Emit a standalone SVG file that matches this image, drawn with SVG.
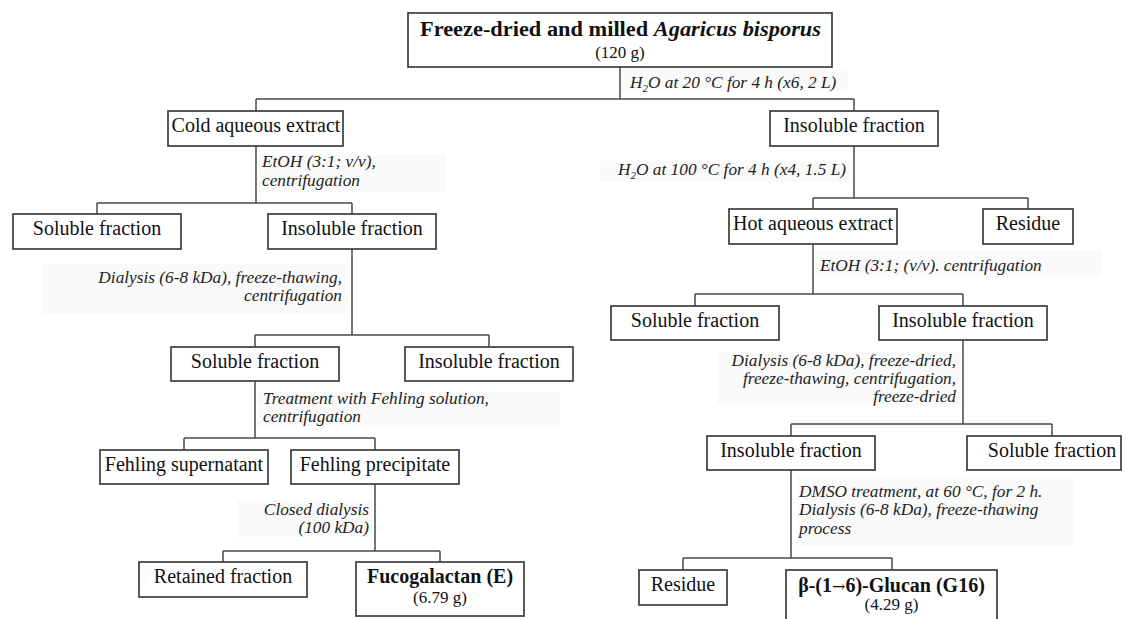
<svg xmlns="http://www.w3.org/2000/svg" width="1126" height="619" viewBox="0 0 1126 619">
  <style>
    .box { fill: #ffffff; stroke: #3c3c3c; stroke-width: 1.7; }
    .lbl { font-family: "Liberation Serif", "Times New Roman", serif; font-size: 20px; fill: #111; text-anchor: middle; }
    .b { font-weight: bold; }
    .sub { font-family: "Liberation Serif", "Times New Roman", serif; font-size: 17px; fill: #111; text-anchor: middle; }
    .note { font-family: "Liberation Serif", "Times New Roman", serif; font-size: 17.3px; font-style: italic; fill: #222; }
    .r { text-anchor: end; }
    .bg { fill: #fafafa; }
    .arrow { font-family: "DejaVu Serif", serif; font-weight: normal; font-size: 16px; }
    #connectors path { fill: none; stroke: #4a4a4a; stroke-width: 1.5; }
  </style>

  <rect width="1126" height="619" fill="#ffffff"/>

  <!-- soft backgrounds behind step notes -->
  <g id="note-backgrounds">
    <rect class="bg" x="621" y="69" width="227" height="23"/>
    <rect class="bg" x="258" y="154" width="188" height="38"/>
    <rect class="bg" x="600" y="161" width="252" height="21"/>
    <rect class="bg" x="815" y="250" width="287" height="27"/>
    <rect class="bg" x="43" y="264" width="303" height="50"/>
    <rect class="bg" x="258" y="392" width="302" height="35"/>
    <rect class="bg" x="237" y="500" width="135" height="37"/>
    <rect class="bg" x="717" y="352" width="244" height="53"/>
    <rect class="bg" x="797" y="476" width="276" height="70"/>
  </g>

  <!-- connectors -->
  <g id="connectors">
    <path d="M620,67 V99 M256,99 H854 M256,99 V111 M854,99 V111"/>
    <!-- cold extract branch -->
    <path d="M256,146 V203 M97,203 H352 M97,203 V214 M352,203 V214"/>
    <path d="M352,249 V335 M255,335 H489 M255,335 V347 M489,335 V347"/>
    <path d="M255,381 V438 M184,438 H375 M184,438 V450 M375,438 V450"/>
    <path d="M375,484 V551 M223,551 H440 M223,551 V562 M440,551 V562"/>
    <!-- insoluble residue branch -->
    <path d="M854,146 V198 M813,198 H1028 M813,198 V209 M1028,198 V209"/>
    <path d="M813,244 V294 M695,294 H963 M695,294 V306 M963,294 V306"/>
    <path d="M963,340 V424 M791,424 H1052 M791,424 V436 M1052,424 V436"/>
    <path d="M791,470 V558 M683,558 H892 M683,558 V570 M892,558 V570"/>
  </g>

  <!-- step notes -->
  <g id="notes">
    <text class="note" x="630" y="88">H<tspan font-size="11" dy="4">2</tspan><tspan dy="-4">O at 20 °C for 4 h (x6, 2 L)</tspan></text>
    <text class="note" x="262" y="167">EtOH (3:1; v/v),</text>
    <text class="note" x="262" y="186">centrifugation</text>
    <text class="note r" x="846" y="175">H<tspan font-size="11" dy="4">2</tspan><tspan dy="-4">O at 100 °C for 4 h (x4, 1.5 L)</tspan></text>
    <text class="note" x="820" y="271">EtOH (3:1; (v/v). centrifugation</text>
    <text class="note r" x="342" y="283">Dialysis (6-8 kDa), freeze-thawing,</text>
    <text class="note r" x="342" y="301">centrifugation</text>
    <text class="note" x="263" y="404">Treatment with Fehling solution,</text>
    <text class="note" x="263" y="422">centrifugation</text>
    <text class="note r" x="369" y="515">Closed dialysis</text>
    <text class="note r" x="369" y="533">(100 kDa)</text>
    <text class="note r" x="956" y="366">Dialysis (6-8 kDa), freeze-dried,</text>
    <text class="note r" x="956" y="384">freeze-thawing, centrifugation,</text>
    <text class="note r" x="956" y="402">freeze-dried</text>
    <text class="note" x="799" y="497">DMSO treatment, at 60 °C, for 2 h.</text>
    <text class="note" x="799" y="515">Dialysis (6-8 kDa), freeze-thawing</text>
    <text class="note" x="799" y="534">process</text>
  </g>

  <!-- nodes -->
  <g id="n-start">
    <rect class="box" x="408" y="13" width="424" height="54"/>
    <text class="lbl b" x="620.5" y="36" font-size="22" textLength="401" lengthAdjust="spacingAndGlyphs">Freeze-dried and milled <tspan font-style="italic">Agaricus bisporus</tspan></text>
    <text class="sub" x="620" y="58" font-size="18">(120 g)</text>
  </g>
  <g id="n-cold-extract">
    <rect class="box" x="168" y="111" width="175" height="35"/>
    <text class="lbl" x="256" y="132">Cold aqueous extract</text>
  </g>
  <g id="n-insoluble-1">
    <rect class="box" x="770" y="111" width="168" height="35"/>
    <text class="lbl" x="854" y="132">Insoluble fraction</text>
  </g>
  <g id="n-soluble-2">
    <rect class="box" x="13" y="214" width="168" height="35"/>
    <text class="lbl" x="97" y="235">Soluble fraction</text>
  </g>
  <g id="n-insoluble-2">
    <rect class="box" x="268" y="214" width="168" height="35"/>
    <text class="lbl" x="352" y="235">Insoluble fraction</text>
  </g>
  <g id="n-soluble-3">
    <rect class="box" x="171" y="347" width="168" height="34"/>
    <text class="lbl" x="255" y="368">Soluble fraction</text>
  </g>
  <g id="n-insoluble-3">
    <rect class="box" x="405" y="347" width="168" height="34"/>
    <text class="lbl" x="489" y="368">Insoluble fraction</text>
  </g>
  <g id="n-fehling-sup">
    <rect class="box" x="100" y="450" width="168" height="34"/>
    <text class="lbl" x="184" y="471">Fehling supernatant</text>
  </g>
  <g id="n-fehling-pre">
    <rect class="box" x="291" y="450" width="168" height="34"/>
    <text class="lbl" x="375" y="471">Fehling precipitate</text>
  </g>
  <g id="n-retained">
    <rect class="box" x="139" y="562" width="168" height="35"/>
    <text class="lbl" x="223" y="583">Retained fraction</text>
  </g>
  <g id="n-fucogalactan">
    <rect class="box" x="356" y="562" width="168" height="54"/>
    <text class="lbl b" x="440" y="583">Fucogalactan (E)</text>
    <text class="sub" x="440" y="603">(6.79 g)</text>
  </g>
  <g id="n-hot-extract">
    <rect class="box" x="729" y="209" width="168" height="35"/>
    <text class="lbl" x="813" y="230">Hot aqueous extract</text>
  </g>
  <g id="n-residue-1">
    <rect class="box" x="983" y="209" width="90" height="35"/>
    <text class="lbl" x="1028" y="230">Residue</text>
  </g>
  <g id="n-soluble-4">
    <rect class="box" x="611" y="306" width="168" height="34"/>
    <text class="lbl" x="695" y="327">Soluble fraction</text>
  </g>
  <g id="n-insoluble-4">
    <rect class="box" x="879" y="306" width="168" height="34"/>
    <text class="lbl" x="963" y="327">Insoluble fraction</text>
  </g>
  <g id="n-insoluble-5">
    <rect class="box" x="707" y="436" width="168" height="34"/>
    <text class="lbl" x="791" y="457">Insoluble fraction</text>
  </g>
  <g id="n-soluble-5">
    <rect class="box" x="967" y="436" width="154" height="34"/>
    <text class="lbl" x="1052" y="457">Soluble fraction</text>
  </g>
  <g id="n-residue-2">
    <rect class="box" x="639" y="570" width="88" height="35"/>
    <text class="lbl" x="683" y="591">Residue</text>
  </g>
  <g id="n-glucan">
    <rect class="box" x="786" y="570" width="211" height="60"/>
    <text class="lbl b" x="891.5" y="592">β-(1<tspan class="arrow">→</tspan>6)-Glucan (G16)</text>
    <text class="sub" x="891.5" y="610">(4.29 g)</text>
  </g>
</svg>
